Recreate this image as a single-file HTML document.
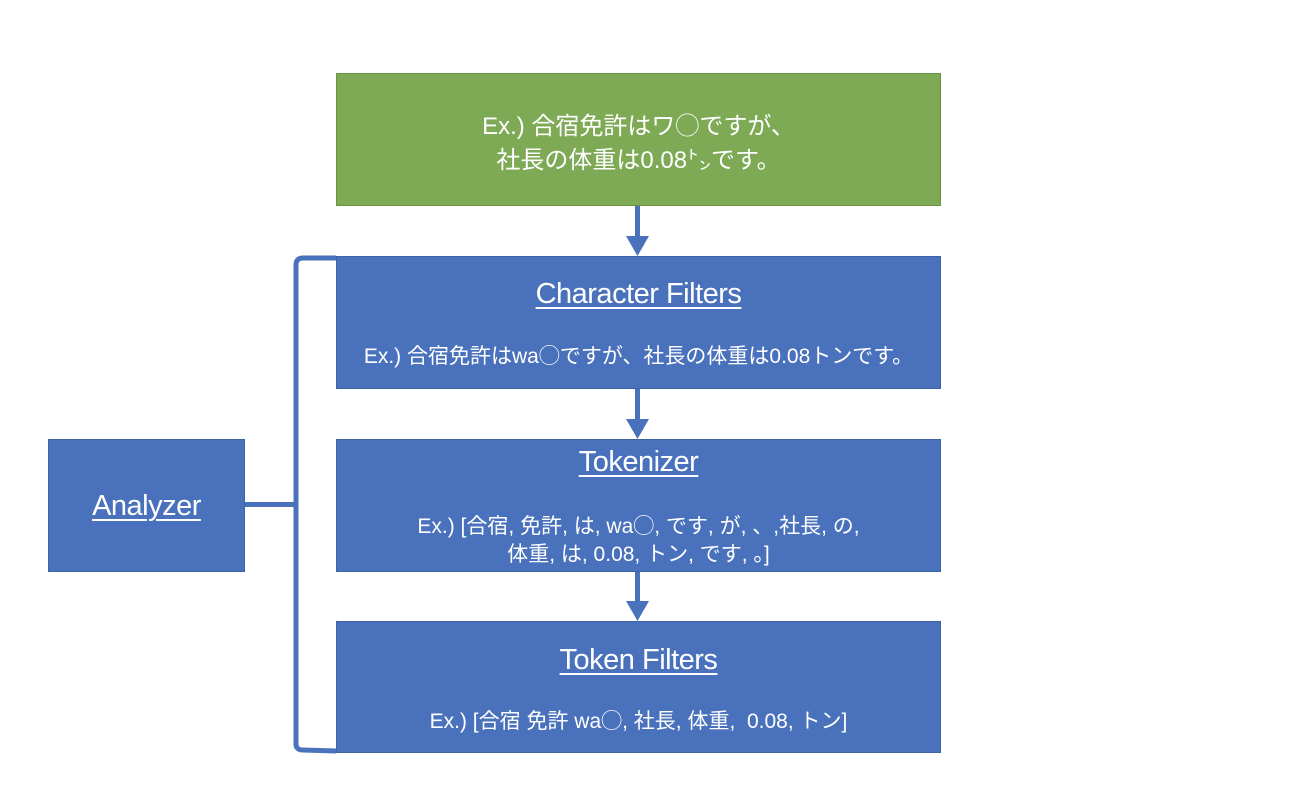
<!DOCTYPE html>
<html><head><meta charset="utf-8"><style>
body{margin:0;width:1300px;height:787px;background:#fff;position:relative;overflow:hidden;font-family:"Liberation Sans","Noto Sans CJK JP",sans-serif;}
.b{position:absolute;background:#4a72bc;border:1px solid #3d62a6;box-sizing:border-box;color:#fff;text-align:center;}
.g{background:#7ea955;border-color:#6a9145;}
.t{position:absolute;left:0;right:0;font-size:29px;text-decoration:underline;text-underline-offset:4px;text-decoration-thickness:2px;letter-spacing:-0.5px;}
.s{position:absolute;left:0;right:0;font-size:21px;line-height:28px;white-space:nowrap;}
</style></head><body>
<svg width="1300" height="787" style="position:absolute;left:0;top:0">
<g fill="#4a72bc" stroke="none">
<rect x="635" y="205" width="5" height="33"/><polygon points="626,236 649,236 637.5,256"/>
<rect x="635" y="388" width="5" height="33"/><polygon points="626,419 649,419 637.5,439"/>
<rect x="635" y="571" width="5" height="32"/><polygon points="626,601 649,601 637.5,621"/>
<rect x="244" y="502" width="52" height="5"/>
</g>
<path d="M336,258 L303,258 Q296,258 296,265 L296,744 Q296,750 303,750 L336,751" fill="none" stroke="#4a72bc" stroke-width="5"/>
</svg>
<div class="b g" style="left:336px;top:73px;width:605px;height:133px"><div class="s" style="top:36px;font-size:24px;line-height:34px">Ex.) 合宿免許はワ◯ですが、<br>社長の体重は0.08㌧です。</div></div>
<div class="b" style="left:336px;top:256px;width:605px;height:133px"><div class="t" style="top:21px">Character Filters</div><div class="s" style="top:86px">Ex.) 合宿免許はwa◯ですが、社長の体重は0.08トンです。</div></div>
<div class="b" style="left:336px;top:439px;width:605px;height:133px"><div class="t" style="top:6px">Tokenizer</div><div class="s" style="top:73px">Ex.) [合宿, 免許, は, wa◯, です, が, 、,社長, の,<br>体重, は, 0.08, トン, です, 。]</div></div>
<div class="b" style="left:336px;top:621px;width:605px;height:132px"><div class="t" style="top:22px">Token Filters</div><div class="s" style="top:86px">Ex.) [合宿 免許 wa◯, 社長, 体重,&nbsp; 0.08, トン]</div></div>
<div class="b" style="left:48px;top:439px;width:197px;height:133px"><div class="t" style="top:50px">Analyzer</div></div>
</body></html>
